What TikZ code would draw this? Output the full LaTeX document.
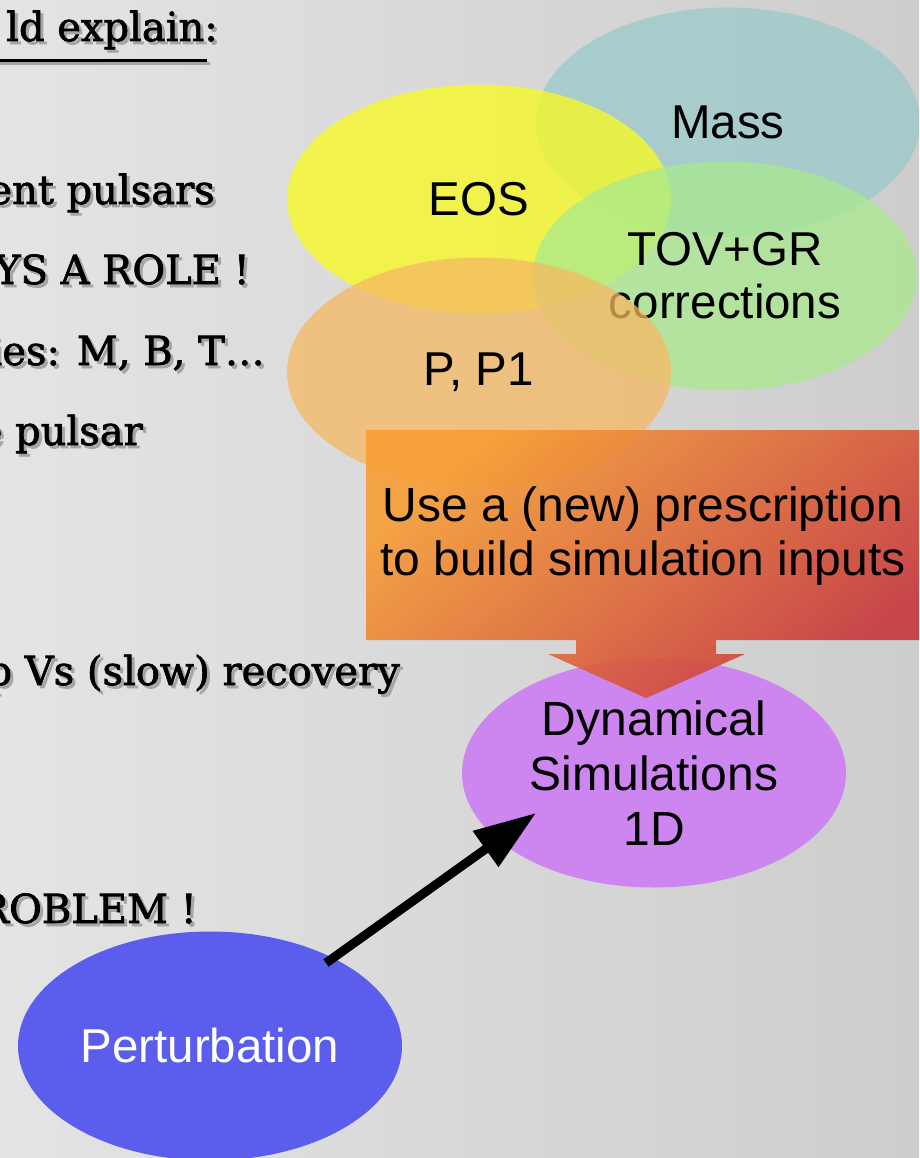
\documentclass[tikz,border=0pt]{standalone}
\usepackage{fontspec}
\setmainfont{Liberation Sans}
\newfontfamily\serifleft[FakeBold=1.8]{DejaVu Serif}
\usetikzlibrary{shapes.geometric,arrows.meta,calc}
\definecolor{bgL}{RGB}{228,228,228}
\definecolor{bgR}{RGB}{205,205,205}
\definecolor{cYellow}{RGB}{251,251,30}
\definecolor{cTeal}{RGB}{154,201,201}
\definecolor{cGreen}{RGB}{169,233,142}
\definecolor{cOrange}{RGB}{246,185,99}
\definecolor{cPurple}{RGB}{205,133,240}
\definecolor{cBlue}{RGB}{91,94,236}
\definecolor{cArrowA}{RGB}{247,158,52}
\definecolor{cArrowB}{RGB}{200,56,60}
\definecolor{shadowgray}{RGB}{165,165,165}
\tikzset{
  blob/.style={ellipse, minimum width=384pt, minimum height=229pt, inner sep=0pt,
    align=center, font=\fontsize{47.5}{53}\selectfont, fill opacity=0.75, text opacity=1},
  lefttext/.style={anchor=base east, inner sep=0pt, font=\serifleft\fontsize{40}{44}\selectfont},
  leftshadow/.style={lefttext, text=shadowgray},
  boxtext/.style={align=center, inner sep=0pt, font=\fontsize{48}{54}\selectfont},
  bigarrow/.style={line width=9pt, -{Triangle[length=62pt,width=42pt]}},
}
\newcommand\LeftLine[4]{%
  \node[leftshadow] (#1s) at (#2+3,#3+3) {#4};
  \node[lefttext] (#1) at (#2,#3) {#4};}
\begin{document}
\begin{tikzpicture}[x=1pt,y=-1pt]
\useasboundingbox (0,0) rectangle (919,1158);
\clip (0,0) rectangle (919,1158);
\shade[left color=bgL, right color=bgR] (0,0) rectangle (919,1158);

% left text
\LeftLine{L1}{218}{41}{ld explain:}
\draw[shadowgray, line width=3pt] (0,64) -- (210,64);
\draw[black, line width=3pt] (0,61) -- (207,61);
\LeftLine{L2}{215}{204}{ent pulsars}
\LeftLine{L3}{250}{284}{YS A ROLE !}
\LeftLine{L4}{265}{365}{ties: M, B, T\dots}
\LeftLine{L5}{143}{445}{e pulsar}
\LeftLine{L6}{400}{685}{p Vs (slow) recovery}
\LeftLine{L7}{197}{923}{ROBLEM !}

% overlapping ellipses
\node[blob, fill=cTeal] (mass) at (728,122) {Mass};
\node[blob, fill=cYellow] (eos) at (479,199) {EOS};
\node[blob, fill=cGreen] (tov) at (725,276) {TOV+GR\\corrections};
\node[blob, fill=cOrange] (pp) at (479,372) {P, P1};

% dynamical simulations
\node[blob, fill=cPurple, fill opacity=1, font=\fontsize{48}{55}\selectfont] (dyn) at (654,773) {Dynamical\\Simulations\\1D};

% callout arrow box
\shade[left color=cArrowA, right color=cArrowB, shading angle=40, opacity=0.9]
  (366,430) -- (919,430) -- (919,640) -- (716,640) -- (716,654) -- (745,654)
  -- (646,698) -- (548,654) -- (576,654) -- (576,640) -- (366,640) -- cycle;
\node[boxtext] (presc) at (643,536) {Use a (new) prescription\\to build simulation inputs};

% perturbation
\node[blob, fill=cBlue, fill opacity=1, text=white] (pert) at (210,1046) {Perturbation};

\coordinate (ps) at ($(pert.center)+(116,-83)$);
\coordinate (pe) at ($(dyn.center)+(-118,40)$);
\draw[bigarrow] (ps) -- (pe);
\end{tikzpicture}
\end{document}
